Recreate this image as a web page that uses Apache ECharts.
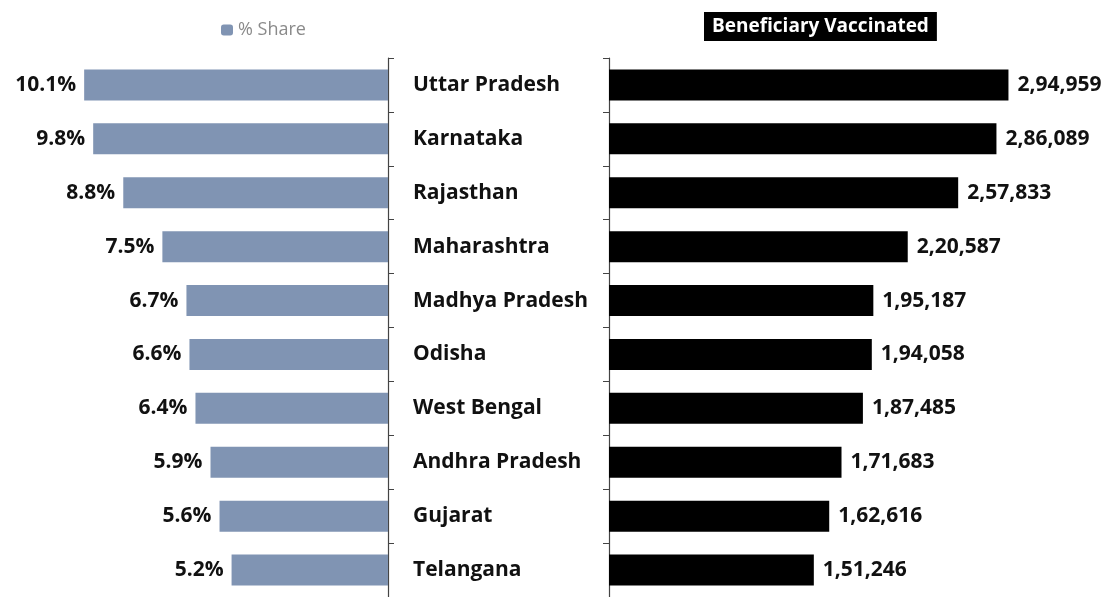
<!DOCTYPE html>
<html>
<head>
<meta charset="utf-8">
<script src="https://cdn.jsdelivr.net/npm/echarts@6/dist/echarts.min.js"></script>
<style>
  html, body { margin: 0; padding: 0; background: #fff; }
  #chart { width: 1116px; height: 597px; }
</style>
</head>
<body>
<div id="chart"></div>
<script>
// states, top to bottom
var states = ['Uttar Pradesh', 'Karnataka', 'Rajasthan', 'Maharashtra', 'Madhya Pradesh',
    'Odisha', 'West Bengal', 'Andhra Pradesh', 'Gujarat', 'Telangana'];
var shareValues = [10.1, 9.8, 8.8, 7.5, 6.7, 6.6, 6.4, 5.9, 5.6, 5.2];
var vaccinatedValues = [294959, 286089, 257833, 220587, 195187, 194058, 187485, 171683, 162616, 151246];

// Indian digit grouping: 2,94,959
var fmtIndian = function (n) {
    var s = String(n);
    if (s.length <= 3) return s;
    var last = s.slice(-3);
    var rest = s.slice(0, -3);
    rest = rest.replace(/\B(?=(\d{2})+(?!\d))/g, ',');
    return rest + ',' + last;
};

var font = '"Open Sans", "Liberation Sans", sans-serif';

var myChart = echarts.init(document.getElementById('chart'), null, {renderer: 'canvas'});
var option = {
    animation: false,
    title: {
        text: 'Beneficiary Vaccinated',
        left: 704,
        top: 12,
        backgroundColor: '#000',
        padding: [5, 8, 5, 8],
        textStyle: {color: '#fff', fontSize: 19, fontWeight: 'bold', fontFamily: font}
    },
    legend: {
        data: ['% Share'],
        left: 216,
        top: 16,
        itemWidth: 12,
        itemHeight: 11,
        itemGap: 4,
        textStyle: {color: '#8a8a8a', fontSize: 18, fontFamily: font}
    },
    grid: [
        {left: 27, width: 361, top: 58, height: 540},
        {left: 609, width: 474, top: 58, height: 540}
    ],
    xAxis: [
        {gridIndex: 0, type: 'value', inverse: true, min: 0, max: 12, show: false},
        {gridIndex: 1, type: 'value', min: 0, max: 350000, show: false}
    ],
    yAxis: [
        {
            gridIndex: 0, type: 'category', data: states, inverse: true, position: 'right',
            axisLine: {lineStyle: {color: '#444', width: 1.2}},
            axisTick: {show: true, length: 6, lineStyle: {color: '#444'}},
            axisLabel: {margin: 25, align: 'left', color: '#111', fontSize: 21, fontWeight: 'bold', fontFamily: font}
        },
        {
            gridIndex: 1, type: 'category', data: states, inverse: true, position: 'left',
            axisLine: {lineStyle: {color: '#444', width: 1.2}},
            axisTick: {show: true, length: 6, lineStyle: {color: '#444'}},
            axisLabel: {show: false}
        }
    ],
    series: [
        {
            name: '% Share', type: 'bar', xAxisIndex: 0, yAxisIndex: 0,
            data: shareValues, barWidth: 31,
            itemStyle: {color: '#8094b3'},
            label: {
                show: true, position: 'left', distance: 8,
                color: '#111', fontSize: 21, fontWeight: 'bold', fontFamily: font,
                formatter: function (p) { return p.value.toFixed(1) + '%'; }
            }
        },
        {
            name: 'Beneficiary Vaccinated', type: 'bar', xAxisIndex: 1, yAxisIndex: 1,
            data: vaccinatedValues, barWidth: 31,
            itemStyle: {color: '#000'},
            label: {
                show: true, position: 'right', distance: 9,
                color: '#111', fontSize: 21, fontWeight: 'bold', fontFamily: font,
                formatter: function (p) { return fmtIndian(p.value); }
            }
        }
    ]
};
myChart.setOption(option);
</script>
</body>
</html>
